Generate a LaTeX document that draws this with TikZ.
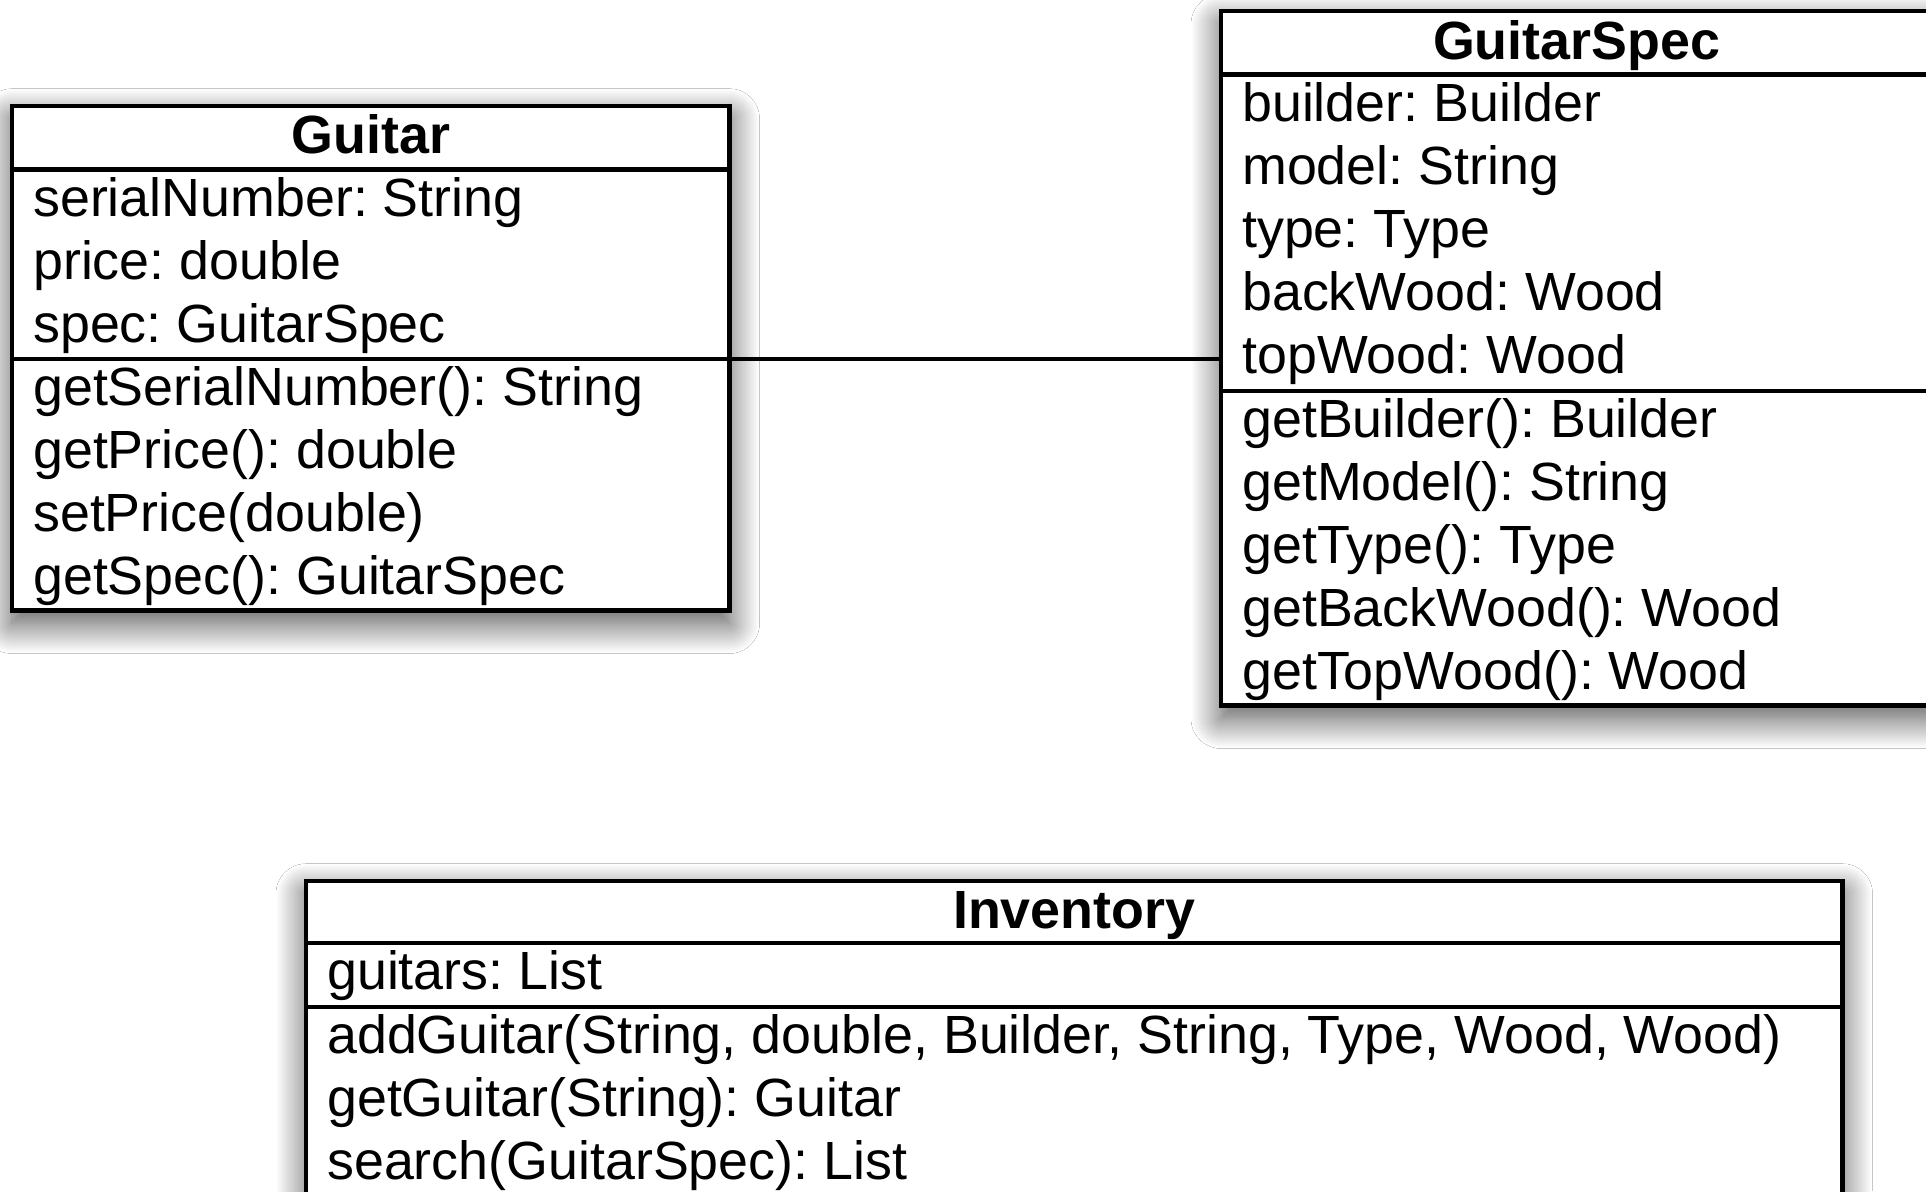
\documentclass[tikz,border=0pt]{standalone}
\usepackage{fontspec}
\setmainfont{Liberation Sans}
\usetikzlibrary{shadows.blur}
\tikzset{
  boxline/.style={line width=4.2pt, draw=black},
  classbox/.style={boxline, fill=white, rectangle, inner sep=0pt, outer sep=0pt, anchor=north west,
    blur shadow={shadow xshift=0pt, shadow yshift=-13pt, shadow blur radius=30pt, shadow blur steps=30, shadow blur extra rounding=0pt, shadow opacity=70}},
  part/.style={boxline, rectangle, inner sep=0pt, outer sep=0pt, anchor=north west},
  member/.style={anchor=base west, inner sep=0pt, font=\fontsize{53.8}{63}\selectfont},
  classname/.style={anchor=base, inner sep=0pt, font=\fontsize{53.8}{63}\selectfont\bfseries},
  assoc/.style={line width=4.2pt, draw=black},
}
\frenchspacing
\begin{document}
\frenchspacing
\begin{tikzpicture}[x=1pt,y=-1pt]
\useasboundingbox[fill=white] (0,0) rectangle (1926,1191);

% ---------------- Guitar ----------------
\node[classbox, minimum width=717.5pt, minimum height=504.8pt] (guitar) at (12,105.7) {};
\node[part, minimum width=717.5pt, minimum height=63.8pt] (guitarT) at (12,105.7) {};
\node[part, minimum width=717.5pt, minimum height=189.2pt] (guitarA) at (12,169.5) {};
\node[part, minimum width=717.5pt, minimum height=251.8pt] (guitarM) at (12,358.7) {};
\node[classname] (gname) at (370.8,153.5) {Guitar};
\node[member] (ga1) at (33,216) {serialNumber: String};
\node[member] (ga2) at (33,279) {price: double};
\node[member] (ga3) at (33,342) {spec: GuitarSpec};
\node[member] (gm1) at (33,405.2) {getSerialNumber(): String};
\node[member] (gm2) at (33,468.2) {getPrice(): double};
\node[member] (gm3) at (33,531.2) {setPrice(double)};
\node[member] (gm4) at (33,594.2) {getSpec(): GuitarSpec};

% ---------------- GuitarSpec ----------------
\node[classbox, minimum width=711pt, minimum height=694.2pt] (spec) at (1221,11.3) {};
\node[part, minimum width=711pt, minimum height=63.2pt] (specT) at (1221,11.3) {};
\node[part, minimum width=711pt, minimum height=316.1pt] (specA) at (1221,74.5) {};
\node[part, minimum width=711pt, minimum height=314.9pt] (specM) at (1221,390.6) {};
\node[classname] (sname) at (1576.5,59) {GuitarSpec};
\node[member] (sa1) at (1242,121) {builder: Builder};
\node[member] (sa2) at (1242,184.2) {model: String};
\node[member] (sa3) at (1242,247.4) {type: Type};
\node[member] (sa4) at (1242,310.6) {backWood: Wood};
\node[member] (sa5) at (1242,373.8) {topWood: Wood};
\node[member] (sm1) at (1242,437.1) {getBuilder(): Builder};
\node[member] (sm2) at (1242,500.1) {getModel(): String};
\node[member] (sm3) at (1242,563.1) {getType(): Type};
\node[member] (sm4) at (1242,626.1) {getBackWood(): Wood};
\node[member] (sm5) at (1242,689.1) {getTopWood(): Wood};

% ---------------- Inventory ----------------
\node[classbox, minimum width=1536.5pt, minimum height=316pt] (inv) at (306,880.7) {};
\node[part, minimum width=1536.5pt, minimum height=62.6pt] (invT) at (306,880.7) {};
\node[part, minimum width=1536.5pt, minimum height=63.3pt] (invA) at (306,943.3) {};
\node[part, minimum width=1536.5pt, minimum height=190pt] (invM) at (306,1006.6) {};
\node[classname] (iname) at (1074.2,928.4) {Inventory};
\node[member] (ia1) at (327,989.8) {guitars: List};
\node[member] (im1) at (327,1053.1) {addGuitar(String, double, Builder, String, Type, Wood, Wood)};
\node[member] (im2) at (327,1116.2) {getGuitar(String): Guitar};
\node[member] (im3) at (327,1179.3) {search(GuitarSpec): List};

% ---------------- association ----------------
\draw[assoc] (guitarA.south east) -- (guitarA.south east -| spec.west);
\end{tikzpicture}
\end{document}
